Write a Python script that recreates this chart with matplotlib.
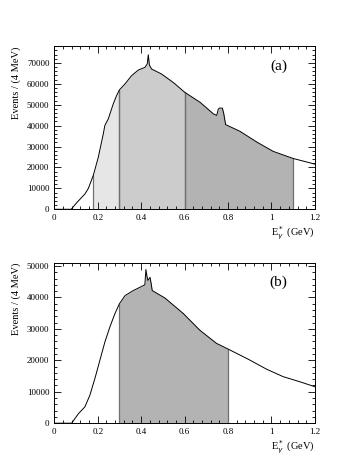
import matplotlib.pyplot as plt
from matplotlib.ticker import MultipleLocator

plt.rcParams['font.family'] = ['Liberation Serif', 'DejaVu Serif']

# panel (a): photon energy spectrum (GeV, events / 4 MeV)
e_a = [0.0, 0.078, 0.103, 0.141, 0.157, 0.18, 0.203, 0.226, 0.233, 0.249, 0.272,
       0.287, 0.30, 0.326, 0.356, 0.387, 0.418, 0.428, 0.433, 0.438, 0.448, 0.494,
       0.55, 0.60, 0.671, 0.732, 0.748, 0.755, 0.760, 0.774, 0.780, 0.789, 0.855,
       0.932, 1.008, 1.10, 1.2]
n_a = [0, 0, 3100, 7300, 10000, 16300, 25000, 36200, 40100, 43300, 50500,
       54400, 57100, 60000, 63900, 66600, 67900, 69500, 73900, 69000, 67100, 64700,
       60500, 56000, 51200, 45700, 44900, 47800, 48400, 48400, 46000, 40500, 37300,
       32200, 27700, 24300, 21600]
bands_a = [(0.18, 0.30, '#e6e6e6'), (0.30, 0.60, '#cccccc'), (0.60, 1.10, '#b3b3b3')]

# panel (b)
e_b = [0.0, 0.080, 0.111, 0.141, 0.164, 0.187, 0.210, 0.233, 0.256, 0.279, 0.30,
       0.326, 0.364, 0.405, 0.417, 0.422, 0.426, 0.431, 0.441, 0.446, 0.451, 0.510,
       0.594, 0.67, 0.747, 0.80, 0.90, 0.977, 1.054, 1.13, 1.2]
n_b = [0, 0, 3000, 5200, 8900, 14200, 20000, 25800, 30600, 34800, 38000,
       40600, 42200, 43600, 44000, 48900, 47000, 45400, 46400, 44500, 42200, 39800,
       34900, 29600, 25400, 23600, 20100, 17200, 14800, 13200, 11600]
bands_b = [(0.30, 0.80, '#b3b3b3')]

fig = plt.figure(figsize=(3.57, 4.62), dpi=100)
ax_a = fig.add_axes([0.152, 0.547, 0.730, 0.353])
ax_b = fig.add_axes([0.152, 0.084, 0.730, 0.347])


def draw(ax, e, n, bands, ymax, tag):
    for lo, hi, col in bands:
        i0, i1 = e.index(lo), e.index(hi)
        ax.fill_between(e[i0:i1 + 1], n[i0:i1 + 1], color=col, linewidth=0)
        ax.vlines([lo, hi], 0, [n[i0], n[i1]], color='#707070', lw=0.9)
    ax.plot(e, n, color='black', lw=0.7)
    ax.set_xlim(0, 1.2)
    ax.set_ylim(0, ymax)
    ax.xaxis.set_minor_locator(MultipleLocator(0.04))
    ax.yaxis.set_major_locator(MultipleLocator(10000))
    ax.yaxis.set_minor_locator(MultipleLocator(2000))
    ax.set_xticks([0, 0.2, 0.4, 0.6, 0.8, 1.0, 1.2], ['0', '0.2', '0.4', '0.6', '0.8', '1', '1.2'])
    ax.tick_params(which='both', direction='in', top=True, right=True, labelsize=6.5, width=0.6)
    ax.tick_params(which='major', length=5)
    ax.tick_params(which='minor', length=2.5)
    for s in ax.spines.values():
        s.set_linewidth(0.7)
    ax.set_ylabel('Events / (4 MeV)', fontsize=7.5, loc='top')
    ax.set_xlabel(r'E$_\gamma^*$ (GeV)', fontsize=7.5, loc='right', labelpad=2)
    ax.text(0.86, 0.92, tag, transform=ax.transAxes, fontsize=11, ha='center', va='top')


draw(ax_a, e_a, n_a, bands_a, 78000, '(a)')
draw(ax_b, e_b, n_b, bands_b, 51000, '(b)')

fig.savefig('out.png', dpi=100)
